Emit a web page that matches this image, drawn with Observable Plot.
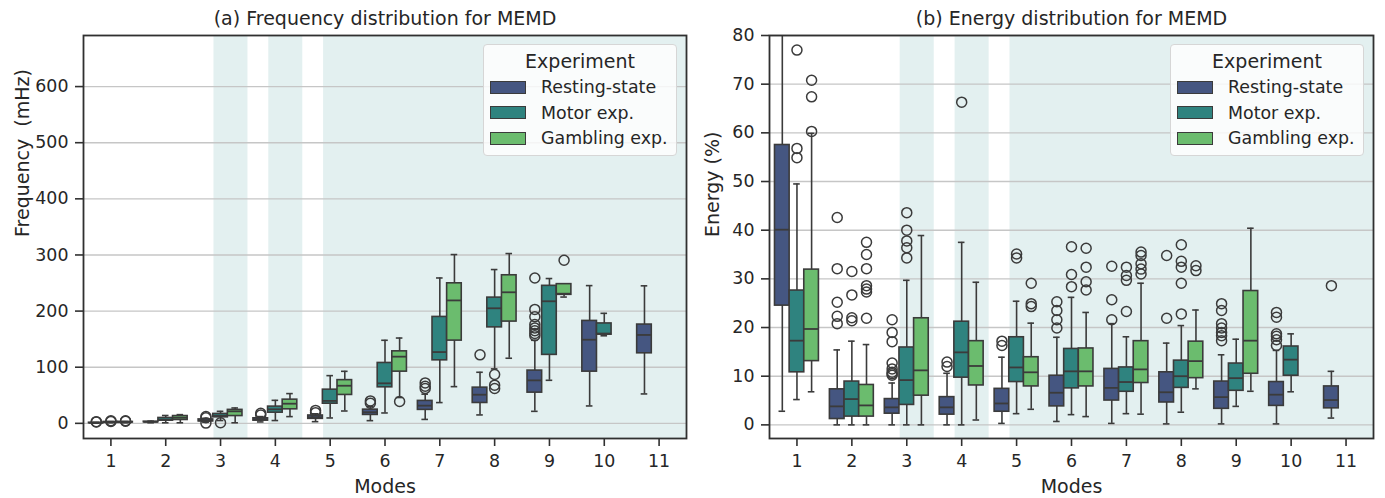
<!DOCTYPE html>
<html>
<head>
<meta charset="utf-8">
<script src="https://cdn.jsdelivr.net/npm/d3@7"></script>
<script src="https://cdn.jsdelivr.net/npm/@observablehq/plot@0.6"></script>
<style>
  html, body { margin: 0; padding: 0; background: #ffffff; }
  #chart { position: relative; width: 1385px; height: 498px; font-family: "DejaVu Sans", sans-serif; color: #262626; }
  #chart svg { position: absolute; top: 0; }
  .legend { position: absolute; box-sizing: border-box; width: 194px; height: 112px;
            background: rgba(255,255,255,0.8); border: 1px solid #d6d6d6; border-radius: 4px; }
  .legend .ttl { position: absolute; left: 0; right: 0; top: 5px; text-align: center; font-size: 19px; }
  .legend .row { position: absolute; left: 6px; height: 20px; display: flex; align-items: center; font-size: 17.4px; }
  .legend .sw { width: 34px; height: 11px; border: 1.3px solid #3b3b3b; margin-right: 15px; }
</style>
</head>
<body>
<div id="chart"></div>
<script>
// Mode numbers on the x axis and the three recordings (hue)
const modes = [1, 2, 3, 4, 5, 6, 7, 8, 9, 10, 11];
const experiments = ["Resting-state", "Motor exp.", "Gambling exp."];
const expColors = ["#455681", "#2f837f", "#6bbc6e"];

// Shaded mode ranges (in mode units)
const shadedSpans = [[2.88, 3.5], [3.88, 4.5], [4.88, 11.5]];

// (a) Frequency (mHz): per mode [lower whisker, Q1, median, Q3, upper whisker]
const freqRest = [
  [0.2, 0.5, 0.8, 1.1, 1.6], [1, 2, 2.5, 3, 4], [2, 3.5, 5, 7, 9], [2.5, 4.8, 7, 9, 12],
  [3, 8, 10.7, 14, 17], [4.8, 15, 19.8, 24.4, 30], [7, 24, 31.5, 40, 52], [15, 36.3, 51, 63.6, 91],
  [21.4, 54.7, 76.6, 94, 148], [31, 92.1, 149, 182.5, 245.4], [52.4, 124.8, 157.5, 176, 245]
];
const freqMotor = [
  [1, 1.5, 2, 2.5, 3], [1, 4.8, 6.5, 9.6, 14], [5, 10.7, 13.5, 16.8, 21.4], [5, 19, 25, 29.8, 41],
  [9.6, 35, 40, 60, 85], [18.5, 64.2, 71.3, 107.6, 148], [37, 112.3, 127, 189.6, 259], [97, 171, 205, 224, 274],
  [76.7, 122, 217.5, 245, 258], [156, 158, 160, 178, 196], null
];
const freqGamble = [
  [1, 1.5, 2, 2.5, 3.2], [1, 6, 10, 13, 15.5], [1, 13, 21.4, 24, 27.4], [12, 25, 35, 42.2, 53],
  [22, 50.6, 67, 77, 92.7], [46, 92.1, 118.8, 128.3, 152], [65.4, 147.4, 219, 249.5, 300.7], [116, 181.3, 233.5, 263.8, 302.5],
  [225, 229, 231, 248, 248], null, null
];
// (a) Frequency outliers per mode
const freqRestOut = [[2.5, 3], [], [0.5, 10, 12], [15, 18], [19, 23], [36, 40], [62, 66, 72], [122],
  [156, 160, 165, 170, 176, 190, 203, 259], [], []];
const freqMotorOut = [[3.5, 4.5], [], [1], [], [], [], [], [62, 68, 87], [], [], []];
const freqGambleOut = [[3.8, 4.5], [], [], [], [], [39], [], [], [290.5], [], []];

// (b) Energy (%): per mode [lower whisker, Q1, median, Q3, upper whisker]
const energyRest = [
  [2.8, 24.5, 40.1, 57.5, 95], [0, 1.2, 3.8, 7.3, 15.4], [0, 2.3, 3.6, 5.3, 8.6], [0, 2.1, 3.6, 5.7, 10.6],
  [0.3, 2.7, 4.4, 7.4, 13.9], [0.7, 3.8, 6.6, 10.1, 18], [0.3, 5, 7.6, 11.5, 20.8], [0.2, 4.6, 6.7, 10.8, 16.8],
  [0.2, 3.3, 5.7, 8.9, 14.4], [0.2, 3.9, 6.2, 8.8, 15.3], [1.4, 3.4, 5.1, 7.9, 11]
];
const energyMotor = [
  [5.2, 10.8, 17.3, 27.6, 49.5], [0, 1.7, 5.3, 8.9, 17.2], [0, 4.1, 9.2, 15.9, 29.7], [0, 9.7, 14.9, 21.2, 37.5],
  [2.3, 8.8, 11.8, 18, 25.4], [2.1, 7.5, 11, 15.6, 26.2], [2.3, 6.8, 8.8, 11.8, 18.1], [2.6, 7.6, 10, 13.2, 20.4],
  [3.8, 7, 9.6, 12.6, 17.6], [6.8, 10.1, 13.4, 16.1, 18.7], null
];
const energyGamble = [
  [6.8, 13.1, 19.7, 31.9, 59.9], [0, 1.7, 4, 8.2, 16.5], [0, 6, 11.2, 21.9, 38.9], [1, 8.1, 12.1, 17.2, 29.3],
  [3.2, 7.9, 10.8, 13.9, 20.9], [1.7, 7.9, 11, 15.7, 23.1], [2.2, 8.6, 11.4, 17.2, 29.1], [7.4, 9.6, 13.1, 17.1, 23.6],
  [6.9, 10.5, 17.3, 27.5, 40.4], null, null
];
// (b) Energy outliers per mode
const energyRestOut = [[], [20.8, 22.3, 25.2, 32.1, 42.6], [10.2, 10.5, 10.8, 11.5, 12.7, 17.1, 19, 21.6], [12, 12.9],
  [16.3, 17.2], [19.9, 21.6, 23.5, 25.3], [21.6, 25.7, 32.6], [21.9, 34.8],
  [17.3, 18.3, 19, 19.9, 20.8, 23.5, 24.9], [16.3, 17.5, 18.2, 18.7, 22.1, 23.1], [28.6]];
const energyMotorOut = [[54.9, 56.8, 77], [21.4, 22, 26.7, 31.5], [34.3, 36.4, 37.8, 40, 43.6], [66.3],
  [34.3, 35.1], [28.4, 30.9, 36.6], [23.3, 29.7, 30.7, 32.4], [22.8, 29.1, 32.4, 33.6, 37], [], [], []];
const energyGambleOut = [[60.3, 67.4, 70.8], [21.9, 27.3, 27.9, 28.6, 32.1, 35, 37.5], [], [],
  [24.3, 24.9, 29.1], [27.7, 29.4, 32.4, 36.3], [31, 32, 33.1, 34.8, 35.5], [31.7, 32.7], [], [], []];

const freqTicks = [0, 100, 200, 300, 400, 500, 600];
const energyTicks = [0, 10, 20, 30, 40, 50, 60, 70, 80];

// Dodged layout: each hue takes a third of 0.8 of a mode slot
const boxW = 0.8 / experiments.length;
const capW = boxW * 0.45;
const lineColor = "#3b3b3b";

function boxRows(statsByExp) {
  const rows = [];
  statsByExp.forEach((stats, k) => {
    stats.forEach((s, i) => {
      if (!s) return;
      rows.push({mode: modes[i], exp: experiments[k], xc: modes[i] + (k - 1) * boxW,
                 lo: s[0], q1: s[1], med: s[2], q3: s[3], hi: s[4]});
    });
  });
  return rows;
}
function flierRows(outByExp) {
  const rows = [];
  outByExp.forEach((outs, k) => {
    outs.forEach((vals, i) => {
      vals.forEach(v => rows.push({mode: modes[i], exp: experiments[k], xc: modes[i] + (k - 1) * boxW, v}));
    });
  });
  return rows;
}

function panel({stats, outliers, yDomain, yTicks, title, ylabel, width, marginLeft, marginRight, ylabelDx}) {
  const boxes = boxRows(stats);
  const fliers = flierRows(outliers);
  return Plot.plot({
    width, height: 498,
    marginTop: 35, marginBottom: 60, marginLeft, marginRight,
    style: {fontFamily: "DejaVu Sans", color: "#262626", background: "transparent", overflow: "visible"},
    x: {domain: [0.5, 11.5]},
    y: {domain: yDomain},
    color: {domain: experiments, range: expColors},
    marks: [
      Plot.rect(shadedSpans, {x1: d => d[0], x2: d => d[1], y1: () => yDomain[0], y2: () => yDomain[1], fill: "#e3f0f0"}),
      Plot.gridY(yTicks, {stroke: "#c6c6c6", strokeOpacity: 1, strokeWidth: 1.4}),
      Plot.ruleX(boxes, {x: "xc", y1: "lo", y2: "q1", stroke: lineColor, strokeWidth: 1.6, clip: true}),
      Plot.ruleX(boxes, {x: "xc", y1: "q3", y2: "hi", stroke: lineColor, strokeWidth: 1.6, clip: true}),
      Plot.ruleY(boxes, {y: "lo", x1: d => d.xc - capW / 2, x2: d => d.xc + capW / 2, stroke: lineColor, strokeWidth: 1.6, clip: true}),
      Plot.ruleY(boxes, {y: "hi", x1: d => d.xc - capW / 2, x2: d => d.xc + capW / 2, stroke: lineColor, strokeWidth: 1.6, clip: true}),
      Plot.rect(boxes, {x1: d => d.xc - boxW / 2, x2: d => d.xc + boxW / 2, y1: "q1", y2: "q3", fill: "exp",
                        stroke: lineColor, strokeWidth: 1.6, clip: true}),
      Plot.ruleY(boxes, {y: "med", x1: d => d.xc - boxW / 2, x2: d => d.xc + boxW / 2, stroke: lineColor, strokeWidth: 1.8}),
      Plot.dot(fliers, {x: "xc", y: "v", r: 5, stroke: lineColor, strokeWidth: 1.5, fill: "none"}),
      Plot.frame({stroke: "#303030", strokeWidth: 1.8}),
      Plot.axisX(modes, {tickSize: 8, tickPadding: 8, fontSize: 17.4, label: null, stroke: "#303030", strokeWidth: 1.6}),
      Plot.axisY(yTicks, {tickSize: 8, tickPadding: 7, fontSize: 17.4, label: null, stroke: "#303030", strokeWidth: 1.6}),
      Plot.text([title], {frameAnchor: "top", dy: -17, fontSize: 19, lineAnchor: "middle", fill: "#262626"}),
      Plot.text(["Modes"], {frameAnchor: "bottom", dy: 48, fontSize: 19, lineAnchor: "middle", fill: "#262626"}),
      Plot.text([ylabel], {frameAnchor: "left", dx: ylabelDx, rotate: -90, fontSize: 19, lineAnchor: "middle", fill: "#262626"})
    ]
  });
}

const chart = document.getElementById("chart");

const left = panel({
  stats: [freqRest, freqMotor, freqGamble],
  outliers: [freqRestOut, freqMotorOut, freqGambleOut],
  yDomain: [-27, 691], yTicks: freqTicks,
  title: "(a) Frequency distribution for MEMD", ylabel: "Frequency\u00a0 (mHz)",
  width: 693, marginLeft: 83, marginRight: 7, ylabelDx: -61
});
left.style.left = "0px";
chart.appendChild(left);

const right = panel({
  stats: [energyRest, energyMotor, energyGamble],
  outliers: [energyRestOut, energyMotorOut, energyGambleOut],
  yDomain: [-2.8, 80], yTicks: energyTicks,
  title: "(b) Energy distribution for MEMD", ylabel: "Energy (%)",
  width: 692, marginLeft: 76, marginRight: 12, ylabelDx: -57
});
right.style.left = "693px";
chart.appendChild(right);

// Legends (one per panel, top-right inside the frame)
function legend(leftPx, topPx) {
  const box = document.createElement("div");
  box.className = "legend";
  box.style.left = leftPx + "px";
  box.style.top = topPx + "px";
  const t = document.createElement("div");
  t.className = "ttl";
  t.textContent = "Experiment";
  box.appendChild(t);
  experiments.forEach((name, k) => {
    const row = document.createElement("div");
    row.className = "row";
    row.style.top = (32 + k * 25.5) + "px";
    const sw = document.createElement("div");
    sw.className = "sw";
    sw.style.background = expColors[k];
    row.appendChild(sw);
    const lab = document.createElement("span");
    lab.textContent = name;
    row.appendChild(lab);
    box.appendChild(row);
  });
  chart.appendChild(box);
}
legend(483, 44);
legend(1170, 44);
</script>
</body>
</html>
